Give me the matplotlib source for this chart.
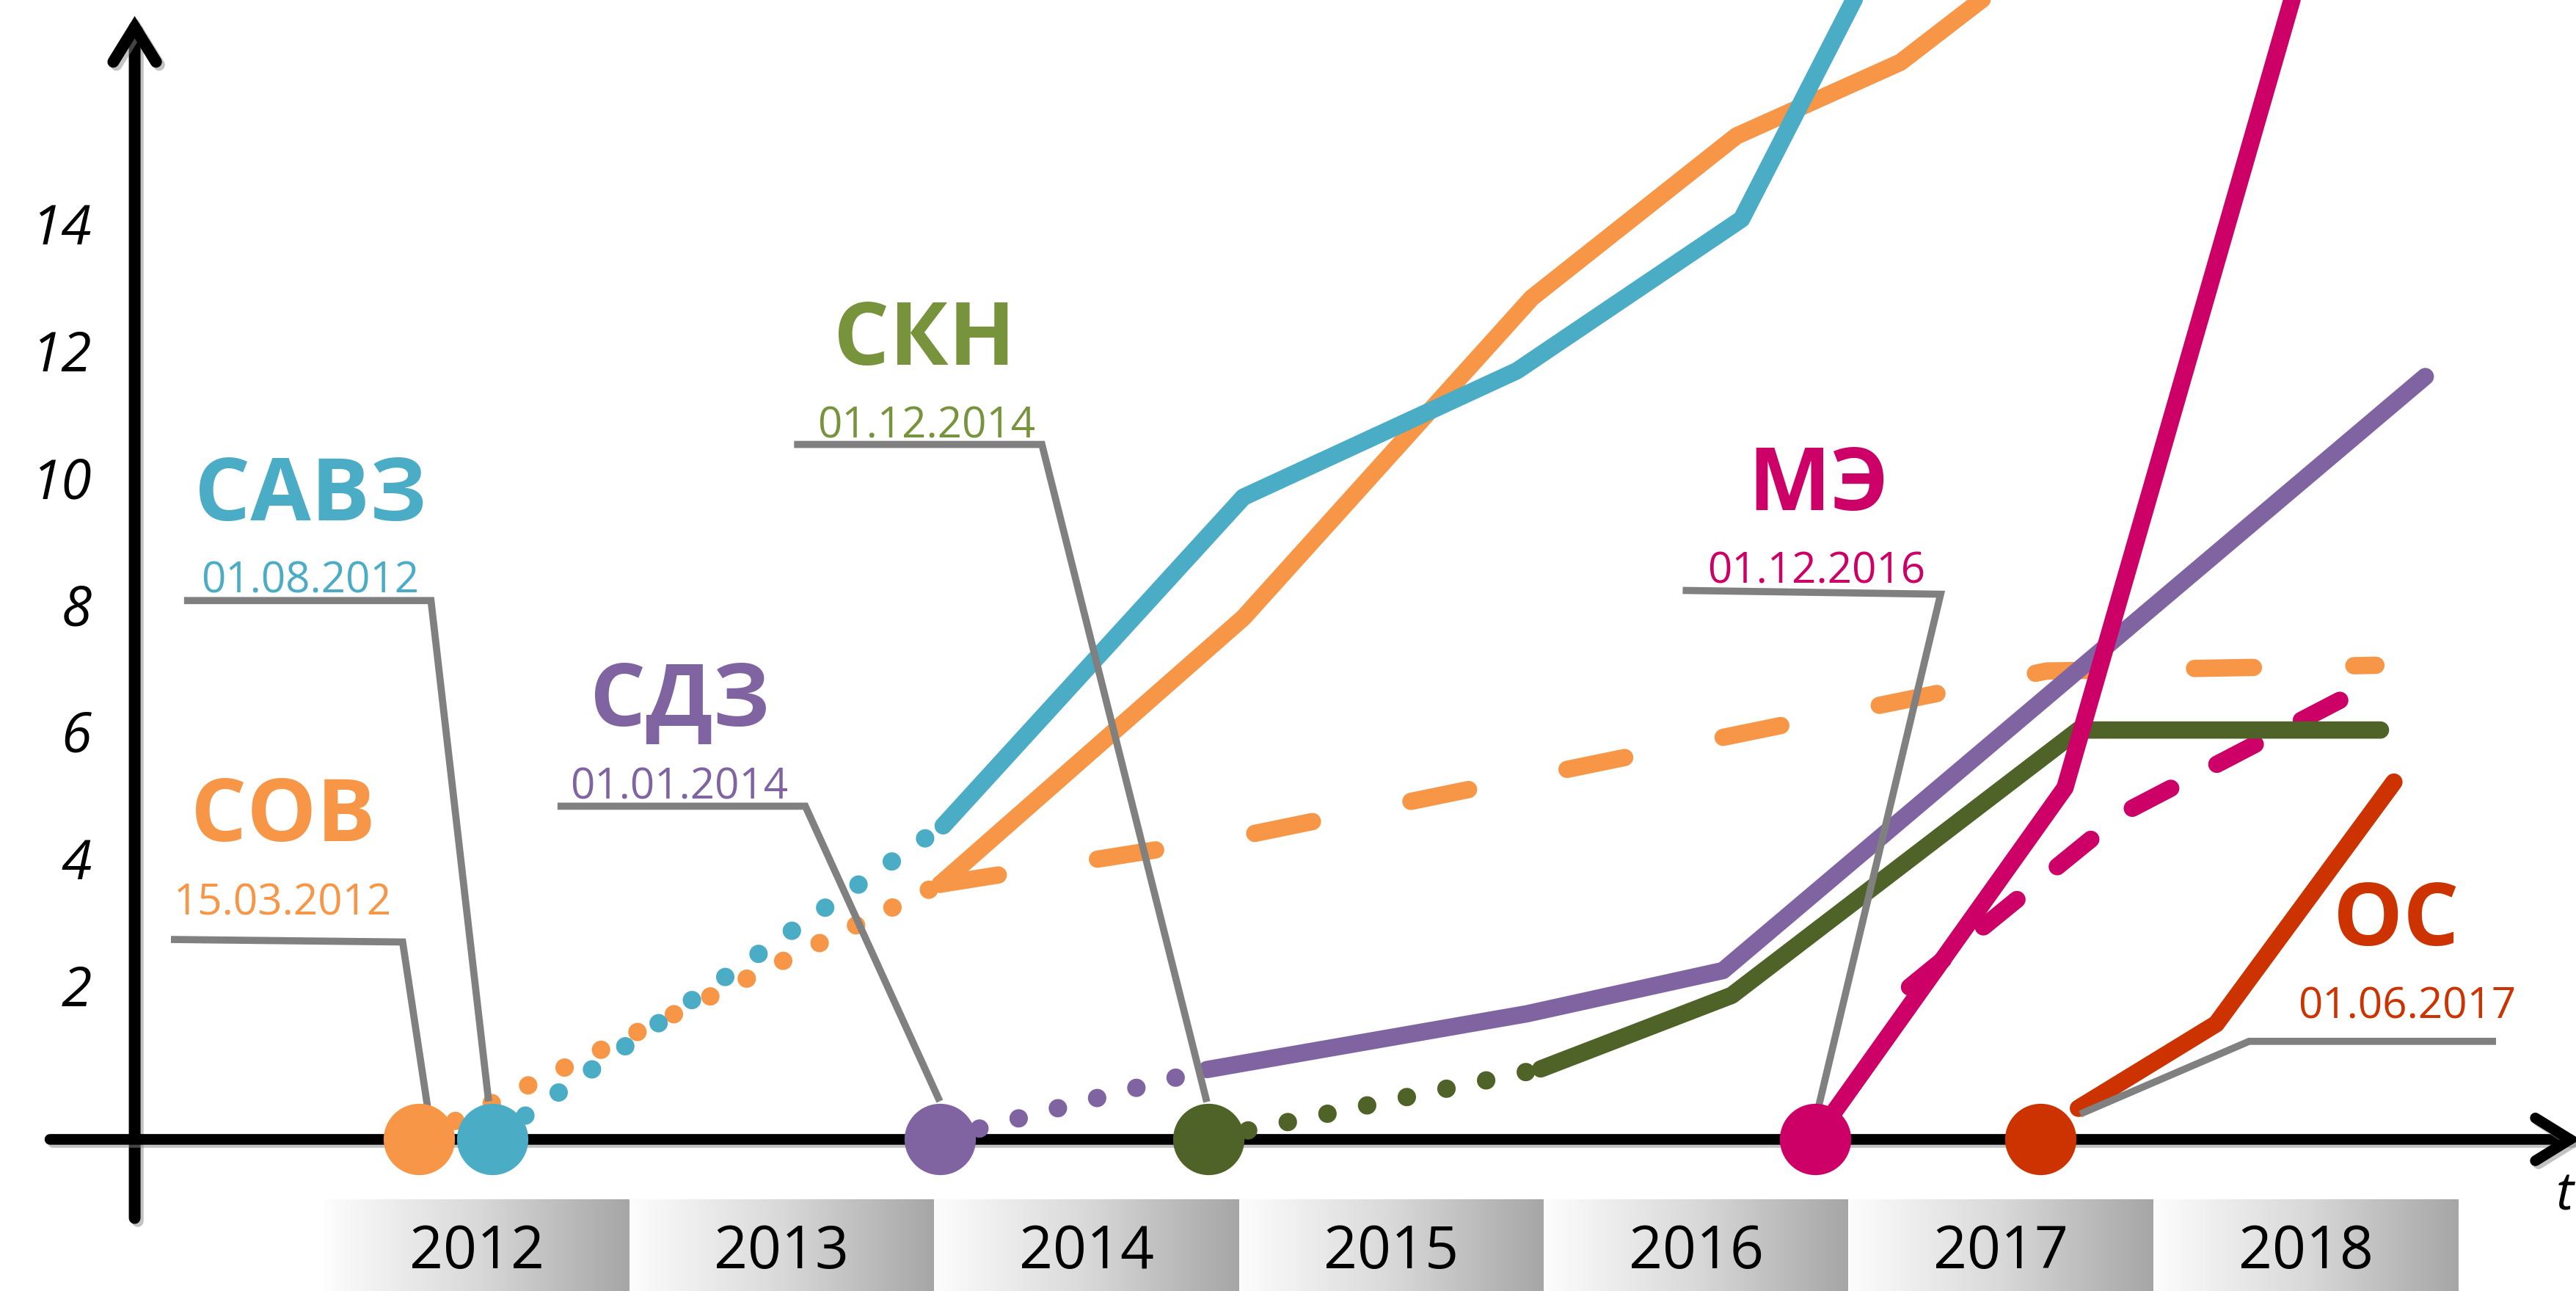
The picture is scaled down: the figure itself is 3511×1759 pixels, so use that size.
import numpy as np
import matplotlib
matplotlib.use('Agg')
import matplotlib.pyplot as plt
import matplotlib.patheffects as pe
from matplotlib.patches import FancyArrowPatch, ArrowStyle
from matplotlib.colors import LinearSegmentedColormap

plt.rcParams['font.family'] = ['Open Sans', 'DejaVu Sans']

# ---- data (x = time in years, y = value) ----
years = ['2012', '2013', '2014', '2015', '2016', '2017', '2018']
y_ticks = [2, 4, 6, 8, 10, 12, 14]

names = ['СОВ', 'САВЗ', 'СДЗ', 'СКН', 'МЭ', 'ОС']
dates = ['15.03.2012', '01.08.2012', '01.01.2014', '01.12.2014', '01.12.2016', '01.06.2017']
start_t = [2012.31, 2012.55, 2014.02, 2014.90, 2016.89, 2017.63]

# СОВ
sov_dot_t = [2012.31, 2014.02]
sov_dot_v = [-0.44, 3.57]
sov_t = [2014.02, 2015.015, 2015.961, 2016.632, 2017.170, 2017.497]
sov_v = [3.57, 7.77, 12.81, 15.36, 16.52, 17.73]
sov_plan_t = [2014.02, 2015.0, 2017.65, 2018.73]
sov_plan_v = [3.57, 4.32, 6.93, 7.02]

# САВЗ
savz_dot_t = [2012.55, 2014.03]
savz_dot_v = [-0.44, 4.49]
savz_t = [2014.03, 2015.015, 2015.912, 2016.649, 2017.042]
savz_v = [4.49, 9.67, 11.66, 14.05, 17.73]

# СДЗ
sdz_dot_t = [2014.02, 2014.895]
sdz_dot_v = [-0.44, 0.65]
sdz_t = [2014.895, 2015.946, 2016.588, 2018.892]
sdz_v = [0.65, 1.53, 2.21, 11.57]

# СКН
skn_dot_t = [2014.90, 2015.99]
skn_dot_v = [-0.44, 0.66]
skn_t = [2015.99, 2016.617, 2017.754, 2018.745]
skn_v = [0.66, 1.82, 6.0, 6.0]

# МЭ
me_t = [2016.89, 2017.71, 2018.468]
me_v = [-0.44, 5.09, 17.73]
me_plan_t = [2017.2, 2017.9, 2018.716]
me_plan_v = [1.95, 4.69, 6.73]

# ОС
os_t = [2017.754, 2018.206, 2018.789]
os_v = [0.04, 1.37, 5.18]

# ---- colours ----
c_orange = '#F79646'
c_blue = '#4BACC6'
c_purple = '#8064A2'
c_green = '#4F6228'
c_green_txt = '#77933C'
c_magenta = '#CC0066'
c_red = '#CC3300'
c_gray = '#808080'
circle_colors = [c_orange, c_blue, c_purple, c_green, c_magenta, c_red]
label_colors = [c_orange, c_blue, c_purple, c_green_txt, c_magenta, c_red]

# ---- callout layout (label baseline positions and leader polylines) ----
label_pos = [(2011.864, 4.25), (2011.954, 9.30), (2013.166, 6.07),
             (2013.969, 11.76), (2016.901, 9.47), (2018.797, 2.61)]
date_pos = [(2011.864, 3.09), (2011.954, 8.16), (2013.164, 4.91),
            (2013.975, 10.60), (2016.894, 8.32), (2018.832, 1.46)]
leaders = [
    ([2011.497, 2012.257, 2012.34], [2.70, 2.66, 0.02]),
    ([2011.54, 2012.35, 2012.539], [8.04, 8.04, 0.15]),
    ([2012.765, 2013.578, 2014.019], [4.80, 4.80, 0.15]),
    ([2013.541, 2014.354, 2014.895], [10.50, 10.50, 0.14]),
    ([2016.456, 2017.302, 2016.903], [8.20, 8.14, 0.09]),
    ([2019.124, 2018.314, 2017.76], [1.095, 1.095, -0.05]),
]

axis_v = -0.45
yaxis_t = 2011.378

fig = plt.figure(figsize=(35.11, 17.59), dpi=100)
ax = fig.add_axes([0, 0, 1, 1])
ax.set_axis_off()

# year strip with grey gradients
band_cmap = LinearSegmentedColormap.from_list('band', ['#fdfdfd', '#d9d9d9', '#a6a6a6'])
grad = np.linspace(0, 1, 256).reshape(1, -1)
for k, yr in enumerate(years):
    x0 = int(yr)
    ax.imshow(grad, extent=(x0, x0 + 1, -3.0, -1.394), cmap=band_cmap,
              aspect='auto', zorder=0, interpolation='bilinear')
    ax.text(x0 + 0.5, -2.48, yr, ha='center', va='baseline', fontsize=58, color='black')

# axes arrows
shadow = [pe.SimpleLineShadow(offset=(3, -3), shadow_color='#888888', alpha=0.5), pe.Normal()]
head = ArrowStyle('->', head_length=34, head_width=21)
yarrow = FancyArrowPatch((yaxis_t, -1.69), (yaxis_t, 17.25), arrowstyle=head,
                         mutation_scale=1, lw=11.5, color='black', shrinkA=0, shrinkB=0,
                         joinstyle='miter', capstyle='round', zorder=3)
yarrow.set_path_effects(shadow)
ax.add_patch(yarrow)
xarrow = FancyArrowPatch((2011.10, axis_v), (2019.40, axis_v), arrowstyle=head,
                         mutation_scale=1, lw=10.5, color='black', shrinkA=0, shrinkB=0,
                         joinstyle='miter', capstyle='round', zorder=3)
xarrow.set_path_effects(shadow)
ax.add_patch(xarrow)

for v in y_ticks:
    ax.text(2011.237, v - 0.35, str(v), ha='right', va='baseline', fontsize=54,
            style='italic', color='black')
ax.text(2019.378, -1.556, 't', ha='right', va='baseline', fontsize=52, style='italic')

solid = dict(lw=17, solid_capstyle='round', solid_joinstyle='round', zorder=4)
dotted = dict(lw=18, linestyle=(0, (0.01, 2.2)), dash_capstyle='round', zorder=4)
dashed = dict(lw=17, dash_capstyle='round', solid_joinstyle='round', zorder=4)

ax.plot(sov_dot_t, sov_dot_v, color=c_orange, **dotted)
ax.plot(savz_dot_t, savz_dot_v, color=c_blue, **dotted)
ax.plot(sdz_dot_t, sdz_dot_v, color=c_purple, **dotted)
ax.plot(skn_dot_t, skn_dot_v, color=c_green, **dotted)

ax.plot(sov_plan_t, sov_plan_v, color=c_orange, linestyle=(0, (3.4, 5.8)), **dashed)
ax.plot(me_plan_t, me_plan_v, color=c_magenta, linestyle=(0, (2.5, 3.0)), **dashed)

ax.plot(sov_t, sov_v, color=c_orange, **solid)
ax.plot(savz_t, savz_v, color=c_blue, **solid)
ax.plot(sdz_t, sdz_v, color=c_purple, **solid)
ax.plot(skn_t, skn_v, color=c_green, **solid)
ax.plot(me_t, me_v, color=c_magenta, **solid)
ax.plot(os_t, os_v, color=c_red, **solid)

# leader lines
for lt, lv in leaders:
    ax.plot(lt, lv, color=c_gray, lw=7, solid_joinstyle='miter', solid_capstyle='butt', zorder=5)

# start circles on the time axis
for t0, col in zip(start_t, circle_colors):
    ax.plot([t0], [axis_v], marker='o', markersize=70, color=col, markeredgewidth=0, zorder=6)

# labels
for name, d, (lx, ly), (dx, dy), col in zip(names, dates, label_pos, date_pos, label_colors):
    ax.text(lx, ly, name, ha='center', va='baseline', fontsize=86, fontweight='bold', color=col)
    ax.text(dx, dy, d, ha='center', va='baseline', fontsize=42, color=col)

ax.set_xlim(2010.9362, 2019.3863)
ax.set_ylim(-2.839, 17.503)

fig.savefig('out.png', dpi=100)
